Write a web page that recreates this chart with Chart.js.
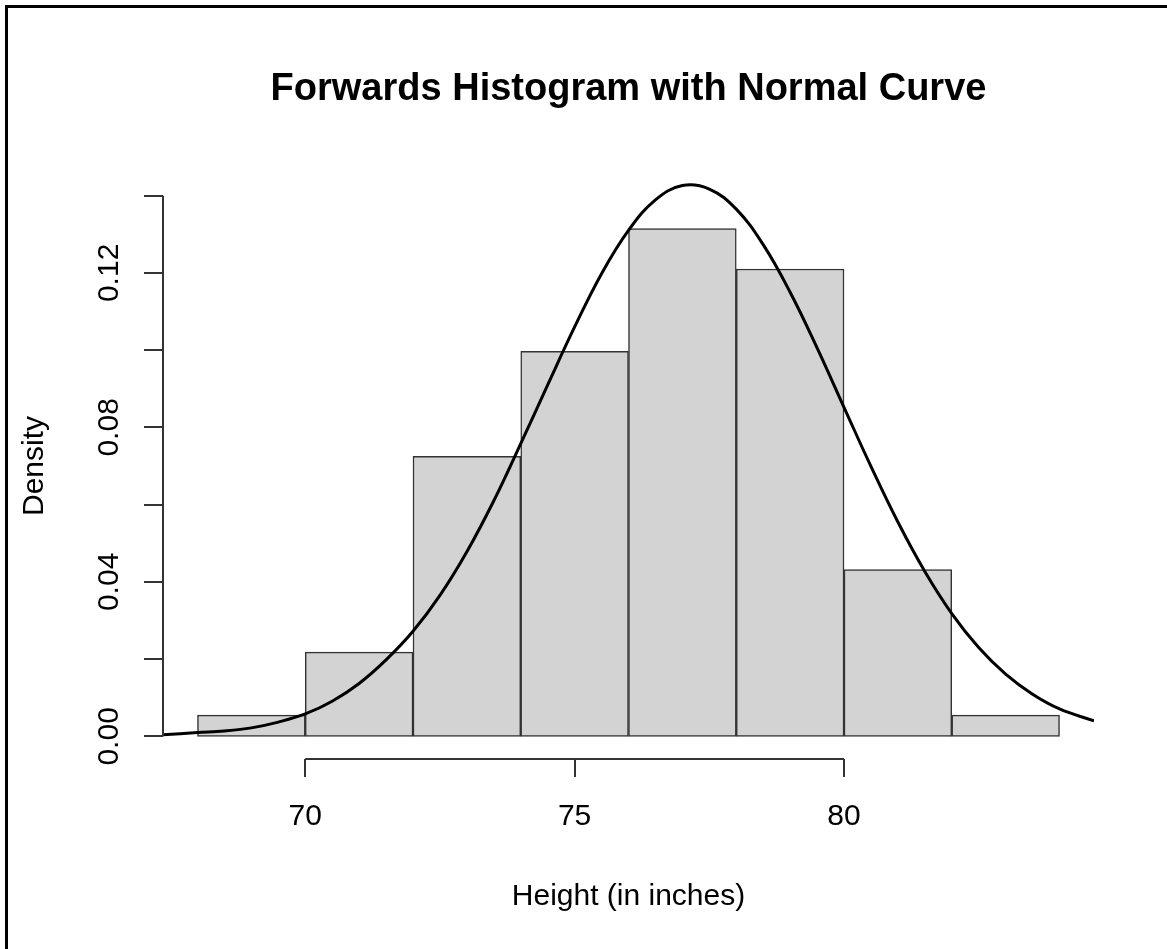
<!DOCTYPE html>
<html>
<head>
<meta charset="utf-8">
<script src="https://cdn.jsdelivr.net/npm/chart.js@4"></script>
<style>
  body { margin: 0; background: #fff; }
  #wrap { position: relative; width: 1167px; height: 949px; overflow: hidden; }
  #frame { position: absolute; left: 5px; top: 5px; width: 2000px; height: 2000px;
           border-top: 3px solid #000; border-left: 3px solid #000; }
  canvas { position: absolute; left: 0; top: 0; }
</style>
</head>
<body>
<div id="wrap">
  <canvas id="histChart" width="1167" height="949"></canvas>
  <div id="frame"></div>
</div>
<script>
// histogram bins (left edge) and density
const binStarts = [68, 70, 72, 74, 76, 78, 80, 82];
const binWidth = 2;
const densities = [0.0055, 0.0218, 0.0725, 0.0997, 0.1315, 0.1210, 0.0432, 0.0055];

// normal curve
const curveX = [67.36, 68, 68.5, 69, 69.5, 70, 70.5, 71, 71.5, 72, 72.5, 73, 73.5, 74, 74.5,
  75, 75.5, 76, 76.5, 77, 77.5, 78, 78.5, 79, 79.5, 80, 80.5, 81, 81.5, 82, 82.5, 83, 83.5, 84, 84.64];
const curveY = [0.0004, 0.0010, 0.0014, 0.0022, 0.0037, 0.0058, 0.0091, 0.0137, 0.0198, 0.0272,
  0.0365, 0.0478, 0.0610, 0.0758, 0.0910, 0.1060, 0.1198, 0.1310, 0.1389, 0.1426, 0.1417, 0.1365,
  0.1273, 0.1150, 0.1006, 0.0852, 0.0699, 0.0555, 0.0427, 0.0318, 0.0230, 0.0161, 0.0109, 0.0071, 0.0040];

// axis ticks
const xTicks = [70, 75, 80];
const xTickLabels = ['70', '75', '80'];
const yTicks = [0, 0.02, 0.04, 0.06, 0.08, 0.10, 0.12, 0.14];
const yTickLabels = ['0.00', '', '0.04', '', '0.08', '', '0.12', ''];

const titleText = 'Forwards Histogram with Normal Curve';
const xTitle = 'Height (in inches)';
const yTitle = 'Density';

const FONT = '"Liberation Sans", Arial, sans-serif';

// R style axes and labels
const rAxes = {
  id: 'rAxes',
  afterDraw(chart) {
    const ctx = chart.ctx;
    const xs = chart.scales.x;
    const ys = chart.scales.y;
    const area = chart.chartArea;
    ctx.save();
    ctx.strokeStyle = '#333';
    ctx.lineWidth = 2;
    ctx.fillStyle = '#000';

    // y axis
    const ax = area.left;
    ctx.beginPath();
    ctx.moveTo(ax, ys.getPixelForValue(yTicks[0]));
    ctx.lineTo(ax, ys.getPixelForValue(yTicks[yTicks.length - 1]));
    yTicks.forEach(v => {
      const py = Math.round(ys.getPixelForValue(v));
      ctx.moveTo(ax - 19, py);
      ctx.lineTo(ax, py);
    });
    ctx.stroke();
    ctx.font = '30px ' + FONT;
    ctx.textAlign = 'center';
    ctx.textBaseline = 'alphabetic';
    yTicks.forEach((v, i) => {
      if (!yTickLabels[i]) return;
      ctx.save();
      ctx.translate(118, ys.getPixelForValue(v));
      ctx.rotate(-Math.PI / 2);
      ctx.fillText(yTickLabels[i], 0, 0);
      ctx.restore();
    });

    // x axis
    const ay = area.bottom + 1;
    ctx.beginPath();
    ctx.moveTo(xs.getPixelForValue(xTicks[0]), ay);
    ctx.lineTo(xs.getPixelForValue(xTicks[xTicks.length - 1]), ay);
    xTicks.forEach(v => {
      const px = Math.round(xs.getPixelForValue(v));
      ctx.moveTo(px, ay);
      ctx.lineTo(px, ay + 18);
    });
    ctx.stroke();
    xTicks.forEach((v, i) => {
      ctx.fillText(xTickLabels[i], xs.getPixelForValue(v), 825);
    });

    // titles
    const cx = (area.left + area.right) / 2;
    ctx.fillText(xTitle, cx, 905);
    ctx.save();
    ctx.translate(43, (area.top + area.bottom) / 2);
    ctx.rotate(-Math.PI / 2);
    ctx.fillText(yTitle, 0, 0);
    ctx.restore();
    ctx.font = 'bold 38px ' + FONT;
    ctx.fillText(titleText, cx, 100);
    ctx.restore();
  }
};

const ctx = document.getElementById('histChart').getContext('2d');
new Chart(ctx, {
  data: {
    datasets: [
      {
        type: 'line',
        data: curveX.map((x, i) => ({ x: x, y: curveY[i] })),
        borderColor: '#000',
        borderWidth: 3,
        pointRadius: 0,
        tension: 0.4,
        fill: false,
        order: 0
      },
      {
        type: 'bar',
        data: binStarts.map((s, i) => ({ x: s + binWidth / 2, y: densities[i] })),
        backgroundColor: '#d3d3d3',
        borderColor: '#333',
        borderWidth: 1.5,
        borderSkipped: false,
        barPercentage: 1,
        categoryPercentage: 1,
        order: 1
      }
    ]
  },
  options: {
    responsive: false,
    devicePixelRatio: 1,
    animation: false,
    layout: { padding: { left: 163, right: 73, top: 174, bottom: 191 } },
    plugins: { legend: { display: false }, tooltip: { enabled: false } },
    scales: {
      x: { type: 'linear', min: 67.36, max: 84.64, offset: false, display: false },
      y: { type: 'linear', min: -0.0056, max: 0.1456, display: false }
    }
  },
  plugins: [rAxes]
});
</script>
</body>
</html>
